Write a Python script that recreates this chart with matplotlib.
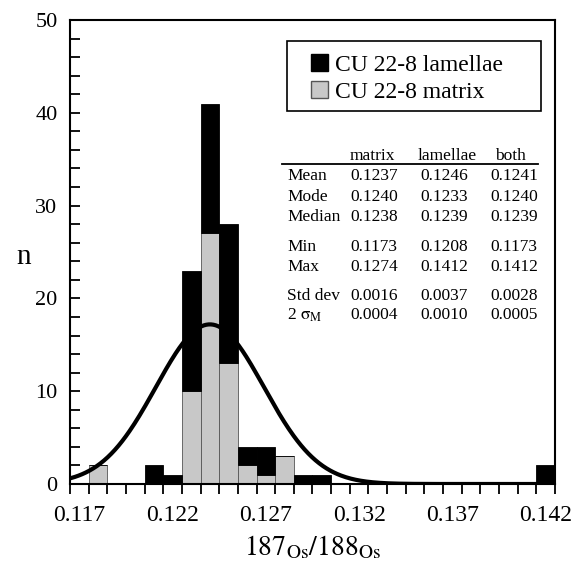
import numpy as np
import matplotlib.pyplot as plt
from matplotlib.patches import Patch, Rectangle

plt.rcParams['font.family'] = ['Liberation Serif', 'DejaVu Serif']
plt.rcParams['mathtext.fontset'] = 'stix'

# histogram bins (centres, width 0.001) and counts
bin_centre = [0.118, 0.121, 0.122, 0.123, 0.124, 0.125, 0.126, 0.127, 0.128, 0.129, 0.130, 0.142]
matrix = [2, 0, 0, 10, 27, 13, 2, 1, 3, 0, 0, 0]
lamellae = [0, 2, 1, 13, 14, 15, 2, 3, 0, 1, 1, 2]
bin_width = 0.001

# normal curve
fit_mean = 0.1240
fit_sd = 0.0029
fit_peak = 17.2

# stats table
stat_names = ['Mean', 'Mode', 'Median', 'Min', 'Max', 'Std dev', r'2 $\mathrm{\sigma_M}$']
col_names = ['matrix', 'lamellae', 'both']
stat_matrix = ['0.1237', '0.1240', '0.1238', '0.1173', '0.1274', '0.0016', '0.0004']
stat_lamellae = ['0.1246', '0.1233', '0.1239', '0.1208', '0.1412', '0.0037', '0.0010']
stat_both = ['0.1241', '0.1240', '0.1239', '0.1173', '0.1412', '0.0028', '0.0005']

W, H = 571, 562
fig = plt.figure(figsize=(W / 100, H / 100), dpi=100)
ax = fig.add_axes([70 / W, 1 - 484 / H, (555 - 70) / W, (484 - 20) / H])


def fx(x):
    return x / W


def fy(y):
    return 1 - y / H


gray = '#c8c8c8'
ax.bar(bin_centre, matrix, width=bin_width, color=gray, edgecolor='#555555', linewidth=0.6, zorder=2)
ax.bar(bin_centre, lamellae, width=bin_width, bottom=matrix, color='black', edgecolor='black',
       linewidth=0.6, zorder=2)

xs = np.linspace(0.1165, 0.1425, 400)
ax.plot(xs, fit_peak * np.exp(-0.5 * ((xs - fit_mean) / fit_sd) ** 2), color='black', lw=3,
        zorder=3, solid_capstyle='butt')

ax.set_xlim(0.1165, 0.1425)
ax.set_ylim(0, 50)

ax.set_xticks([0.117, 0.122, 0.127, 0.132, 0.137, 0.142])
ax.set_xticklabels(['0.117', '0.122', '0.127', '0.132', '0.137', '0.142'])
ax.set_xticks(np.arange(0.1165, 0.1426, 0.001), minor=True)
ax.tick_params(axis='x', which='major', length=0, pad=15, labelsize=17)
ax.tick_params(axis='x', which='minor', direction='out', length=7, width=1.3)
ax.set_yticks([0, 10, 20, 30, 40, 50])
ax.set_yticks(np.arange(0, 51, 2), minor=True)
ax.tick_params(axis='y', which='both', direction='in', length=7, width=1.3, labelsize=16, pad=9)
for s in ax.spines.values():
    s.set_linewidth(1.5)

fig.text(fx(24), fy(257), 'n', fontsize=21, ha='center', va='center')
ax.set_xlabel(r'$\mathrm{187_{Os}/188_{Os}}$', fontsize=20, labelpad=5)

# legend box
ax.add_patch(Rectangle((fx(287), fy(111)), fx(541) - fx(287), fy(41) - fy(111),
                       transform=fig.transFigure, facecolor='white', edgecolor='black',
                       lw=1.2, zorder=4, clip_on=False))
handles = [Patch(facecolor='black', edgecolor='black', label='CU 22-8 lamellae'),
           Patch(facecolor=gray, edgecolor='#555555', label='CU 22-8 matrix')]
leg = ax.legend(handles=handles, loc='upper left', bbox_to_anchor=(fx(311), fy(54)),
                bbox_transform=fig.transFigure, fontsize=17, frameon=False,
                handlelength=0.7, handleheight=0.7, handletextpad=0.3,
                borderpad=0, labelspacing=0.25, borderaxespad=0)
leg.set_zorder(5)

# stats table
row_y = [176, 197, 217, 247, 267, 296, 315]
col_x = [350, 420, 490]
fs = 12.5
fig.text(fx(350), fy(156), col_names[0], fontsize=fs, va='center')
fig.text(fx(418), fy(156), col_names[1], fontsize=fs, va='center')
fig.text(fx(495), fy(156), col_names[2], fontsize=fs, va='center')
fig.add_artist(plt.Line2D([fx(282), fx(538)], [fy(164), fy(164)], color='black', lw=1.3))
for i, name in enumerate(stat_names):
    fig.text(fx(287), fy(row_y[i]), name, fontsize=fs, va='center')
    fig.text(fx(col_x[0]), fy(row_y[i]), stat_matrix[i], fontsize=fs, va='center')
    fig.text(fx(col_x[1]), fy(row_y[i]), stat_lamellae[i], fontsize=fs, va='center')
    fig.text(fx(col_x[2]), fy(row_y[i]), stat_both[i], fontsize=fs, va='center')

fig.savefig('out.png', dpi=100)
